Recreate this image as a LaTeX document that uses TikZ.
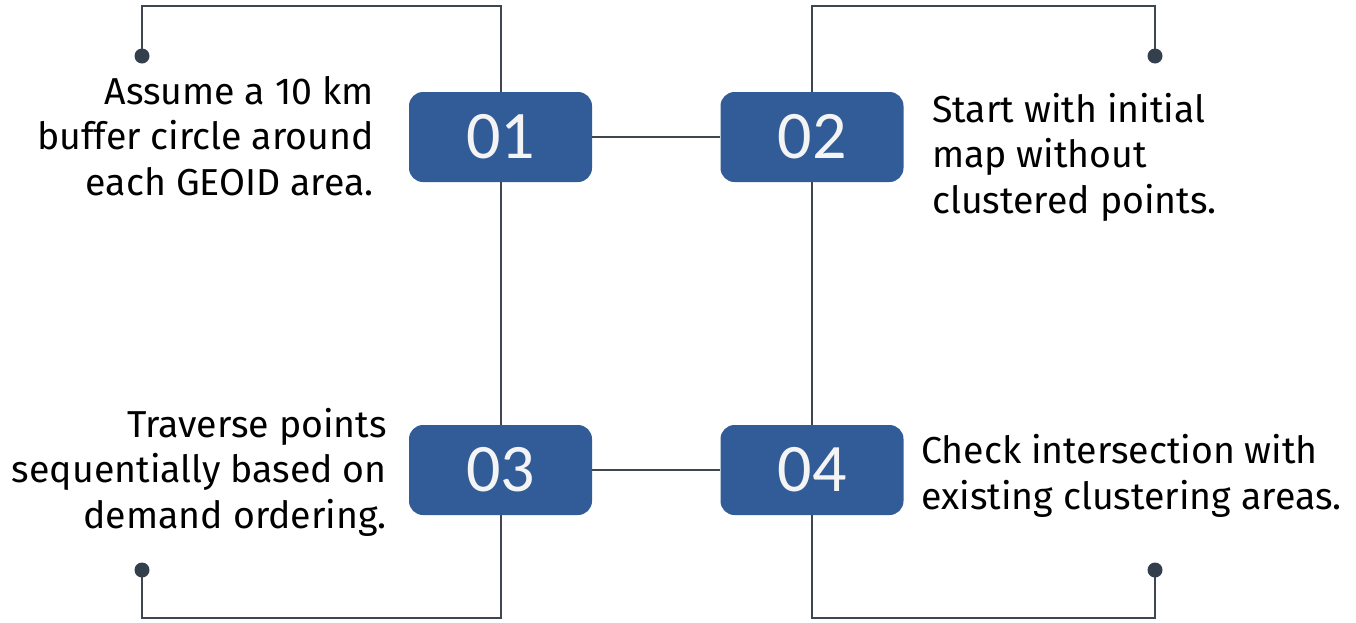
\documentclass[tikz,border=0pt]{standalone}
\usepackage{fontspec}
\setmainfont{Fira Sans}
\newfontfamily\numfont{Carlito}
\definecolor{boxblue}{HTML}{325C97}
\definecolor{linegray}{HTML}{3F4650}
\definecolor{dotgray}{HTML}{333F4C}
\definecolor{numwhite}{HTML}{F4F4F4}
\begin{document}
\begin{tikzpicture}[x=1pt,y=-1pt,
  numbox/.style={fill=boxblue, rounded corners=14pt, minimum width=183pt, minimum height=90pt,
    inner sep=0pt, text=numwhite, font=\numfont\fontsize{68}{68}\selectfont},
  conn/.style={draw=linegray, line width=2pt},
  desc/.style={inner sep=0pt, text=black, font=\fontsize{37.5}{45.5}\selectfont},
  enddot/.style={fill=dotgray}]
\useasboundingbox (0,0) rectangle (1356,622);
% boxes
\node[numbox] (b1) at (500.5,137) {01};
\node[numbox] (b2) at (812,137) {02};
\node[numbox] (b3) at (500.5,470) {03};
\node[numbox] (b4) at (812,470) {04};
% end points
\coordinate (d1) at (142,56);
\coordinate (d2) at (1155,56);
\coordinate (d3) at (142,570);
\coordinate (d4) at (1155,570);
\coordinate (top1) at (500.5,6);
\coordinate (top2) at (812,6);
\coordinate (bot3) at (500.5,618);
\coordinate (bot4) at (812,618);
% connectors
\draw[conn] (b1.north) -- (top1) -| (d1);
\draw[conn] (b2.north) -- (top2) -| (d2);
\draw[conn] (b3.south) -- (bot3) -| (d3);
\draw[conn] (b4.south) -- (bot4) -| (d4);
\draw[conn] (b1.south) -- (b3.north);
\draw[conn] (b2.south) -- (b4.north);
\draw[conn] (b1.east) -- (b2.west);
\draw[conn] (b3.east) -- (b4.west);
\fill[enddot] (d1) circle (7.5pt);
\fill[enddot] (d2) circle (7.5pt);
\fill[enddot] (d3) circle (7.5pt);
\fill[enddot] (d4) circle (7.5pt);
% texts (base anchor = baseline of the last line)
\node[desc, align=right, anchor=base east] (t1) at (374,195) {Assume a 10 km\\buffer circle around\\each GEOID area.};
\node[desc, align=left, anchor=base west] (t2) at (932,213) {Start with initial\\map without\\clustered points.};
\node[desc, align=right, anchor=base east] (t3) at (387,528) {Traverse points\\sequentially based on\\demand ordering.};
\node[desc, align=left, anchor=base west] (t4) at (921,509) {Check intersection with\\existing clustering areas.};
\end{tikzpicture}
\end{document}
